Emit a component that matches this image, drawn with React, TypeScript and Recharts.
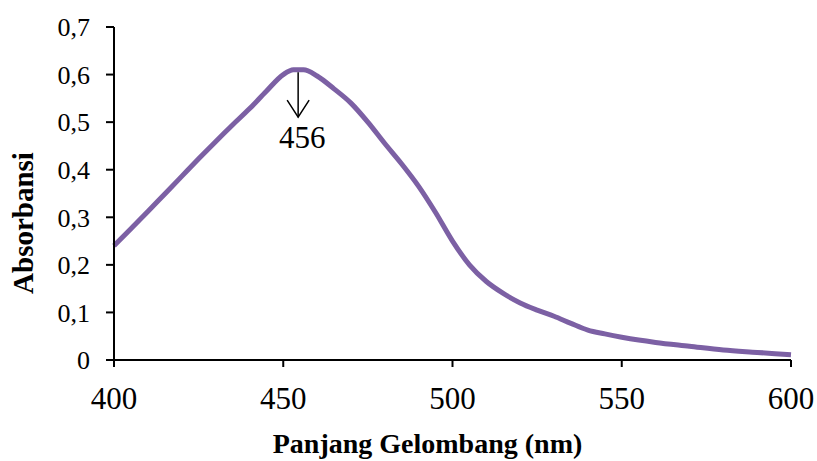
import { LineChart, Line, XAxis, YAxis, ReferenceDot } from "recharts";

const wavelengths = [
  400, 405, 410, 415, 420, 425, 430, 435, 440, 445, 450, 453, 456, 460, 465,
  470, 475, 480, 485, 490, 495, 500, 505, 510, 515, 520, 525, 530, 535, 540,
  545, 550, 555, 560, 570, 580, 590, 600,
];
const absorbance = [
  0.24, 0.276, 0.312, 0.349, 0.386, 0.423, 0.459, 0.494, 0.528, 0.565, 0.6,
  0.61, 0.61, 0.597, 0.57, 0.54, 0.5, 0.455, 0.412, 0.365, 0.31, 0.25, 0.2,
  0.165, 0.14, 0.12, 0.105, 0.092, 0.077, 0.063, 0.055, 0.048, 0.042, 0.037,
  0.029, 0.021, 0.016, 0.011,
];
const xTicks = [400, 450, 500, 550, 600];
const yTicks = [0, 0.1, 0.2, 0.3, 0.4, 0.5, 0.6, 0.7];
const peakX = 454.4;
const peakY = 0.605;
const peakLabel = "456";

const data = wavelengths.map((w, i) => ({ nm: w, abs: absorbance[i] }));

const FONT = "Liberation Serif, serif";
const PURPLE = "#7C60A4";

const fmtY = (v: number) => (v === 0 ? "0" : v.toFixed(1).replace(".", ","));

function PeakArrow(props: any) {
  const { cx, cy } = props;
  if (cx == null || cy == null) return null;
  return (
    <g>
      <line x1={cx} y1={cy} x2={cx} y2={cy + 45} stroke="#000" strokeWidth={1.5} />
      <polyline
        points={`${cx - 11},${cy + 28} ${cx},${cy + 45} ${cx + 11},${cy + 28}`}
        fill="none"
        stroke="#000"
        strokeWidth={1.5}
      />
      <text x={cx + 4} y={cy + 76} textAnchor="middle" style={{ fontFamily: FONT }} fontSize={31} fill="#000">
        {peakLabel}
      </text>
    </g>
  );
}

export default function App() {
  return (
    <div style={{ position: "absolute", left: 0, top: 0, background: "#fff", fontFamily: FONT }}>
      <LineChart
        width={817}
        height={461}
        data={data}
        margin={{ top: 27, right: 26, left: 0, bottom: 0 }}
        style={{ fontFamily: FONT }}
      >
        <XAxis
          dataKey="nm"
          type="number"
          domain={[400, 600]}
          ticks={xTicks}
          height={101}
          tickSize={7}
          tickMargin={20}
          axisLine={{ stroke: "#000", strokeWidth: 2 }}
          tickLine={{ stroke: "#000", strokeWidth: 2 }}
          tick={{ fontFamily: FONT, fontSize: 31, fill: "#000" }}
          label={{
            content: (p: any) => {
              const vb = p.viewBox || { x: 114, y: 360, width: 677 };
              return (
                <text
                  x={vb.x + vb.width / 2 - 25}
                  y={vb.y + 93}
                  textAnchor="middle"
                  style={{ fontFamily: FONT }}
                  fontWeight="bold"
                  fontSize={28}
                  fill="#000"
                >
                  Panjang Gelombang (nm)
                </text>
              );
            },
          }}
        />
        <YAxis
          type="number"
          domain={[0, 0.7]}
          ticks={yTicks}
          width={114}
          tickSize={8}
          tickMargin={16}
          tickFormatter={fmtY}
          axisLine={{ stroke: "#000", strokeWidth: 2 }}
          tickLine={{ stroke: "#000", strokeWidth: 2 }}
          tick={{ fontFamily: FONT, fontSize: 26, fill: "#000" }}
          label={{
            content: () => (
              <text
                x={33}
                y={223}
                transform="rotate(-90, 33, 223)"
                textAnchor="middle"
                style={{ fontFamily: FONT }}
                fontWeight="bold"
                fontSize={29}
                fill="#000"
              >
                Absorbansi
              </text>
            ),
          }}
        />
        <Line
          type="monotone"
          dataKey="abs"
          stroke={PURPLE}
          strokeWidth={5}
          dot={false}
          isAnimationActive={false}
        />
        <ReferenceDot x={peakX} y={peakY} shape={PeakArrow} />
      </LineChart>
    </div>
  );
}
